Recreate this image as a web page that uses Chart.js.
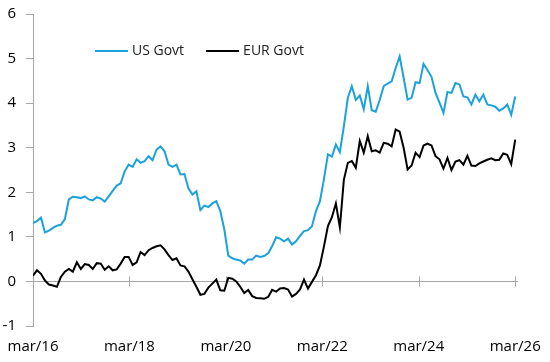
<!DOCTYPE html>
<html>
<head>
<meta charset="utf-8">
<script src="https://cdn.jsdelivr.net/npm/chart.js@4"></script>
<style>
html, body { margin: 0; padding: 0; background: #fff; }
#wrap { width: 550px; height: 362px; }
</style>
</head>
<body>
<div id="wrap"><canvas id="myChart"></canvas></div>
<script>
// monthly yields, mar/16 .. apr/26
const usGovt = [
  1.31, 1.35, 1.43, 1.10, 1.14, 1.20, 1.25, 1.27, 1.40, 1.84,
  1.90, 1.89, 1.87, 1.91, 1.84, 1.82, 1.89, 1.86, 1.79, 1.91,
  2.03, 2.15, 2.20, 2.47, 2.62, 2.57, 2.74, 2.66, 2.70, 2.81,
  2.72, 2.96, 3.03, 2.92, 2.62, 2.57, 2.62, 2.40, 2.41, 2.09,
  1.95, 2.02, 1.60, 1.70, 1.67, 1.75, 1.80, 1.58, 1.17, 0.58,
  0.52, 0.49, 0.47, 0.40, 0.49, 0.49, 0.58, 0.55, 0.57, 0.63,
  0.79, 0.99, 0.96, 0.90, 0.96, 0.83, 0.90, 1.02, 1.13, 1.15,
  1.24, 1.58, 1.80, 2.29, 2.85, 2.80, 3.07, 2.90, 3.48, 4.12,
  4.38, 4.07, 4.17, 3.86, 4.38, 3.84, 3.81, 4.07, 4.38, 4.44,
  4.49, 4.79, 5.05, 4.57, 4.08, 4.12, 4.47, 4.45, 4.88, 4.74,
  4.59, 4.23, 4.01, 3.78, 4.25, 4.23, 4.45, 4.42, 4.15, 4.13,
  3.97, 4.19, 4.04, 4.19, 3.97, 3.95, 3.92, 3.83, 3.88, 3.97,
  3.74, 4.15
];
const eurGovt = [
  0.13, 0.25, 0.17, 0.02, -0.07, -0.09, -0.12, 0.10, 0.22, 0.28,
  0.22, 0.43, 0.28, 0.39, 0.37, 0.28, 0.41, 0.40, 0.26, 0.34,
  0.25, 0.27, 0.40, 0.55, 0.55, 0.37, 0.43, 0.66, 0.59, 0.70,
  0.75, 0.79, 0.81, 0.72, 0.59, 0.48, 0.52, 0.36, 0.34, 0.22,
  0.05, -0.12, -0.30, -0.28, -0.14, -0.05, 0.04, -0.20, -0.21, 0.08,
  0.06, 0.00, -0.12, -0.26, -0.19, -0.33, -0.37, -0.38, -0.39, -0.35,
  -0.19, -0.23, -0.16, -0.15, -0.18, -0.34, -0.28, -0.18, 0.04, -0.16,
  -0.01, 0.14, 0.36, 0.78, 1.24, 1.44, 1.75, 1.21, 2.28, 2.66,
  2.70, 2.55, 3.15, 2.89, 3.26, 2.92, 2.94, 2.89, 3.11, 3.09,
  3.03, 3.41, 3.36, 3.00, 2.51, 2.60, 2.89, 2.79, 3.05, 3.09,
  3.05, 2.81, 2.74, 2.53, 2.77, 2.50, 2.69, 2.72, 2.62, 2.82,
  2.60, 2.59, 2.65, 2.69, 2.73, 2.76, 2.72, 2.73, 2.87, 2.84,
  2.63, 3.18
];
const tickLabels = ['mar/16', 'mar/18', 'mar/20', 'mar/22', 'mar/24', 'mar/26'];
const tickValues = [0, 24.2, 48.4, 72.6, 96.8, 121];

Chart.defaults.font.family = "'Open Sans', sans-serif";
Chart.defaults.font.size = 15;
Chart.defaults.color = '#000';

const axisGrey = '#a6a6a6';

// tick marks on the zero line, and the legend drawn inside the plot
const extras = {
  id: 'extras',
  beforeDatasetsDraw(chart) {
    const {ctx, scales: {x, y}} = chart;
    const y0 = y.getPixelForValue(0);
    ctx.save();
    ctx.strokeStyle = axisGrey;
    ctx.lineWidth = 1;
    ctx.beginPath();
    tickValues.forEach(v => {
      const px = Math.round(x.getPixelForValue(v)) + 0.5;
      ctx.moveTo(px, y0 - 5);
      ctx.lineTo(px, y0 + 5);
    });
    ctx.stroke();
    ctx.restore();
  },
  afterDraw(chart) {
    const ctx = chart.ctx;
    let lx = 95;
    const ly = 51;
    ctx.save();
    ctx.font = "14px 'Open Sans'";
    ctx.textBaseline = 'middle';
    chart.data.datasets.forEach(ds => {
      ctx.strokeStyle = ds.borderColor;
      ctx.lineWidth = 2;
      ctx.beginPath();
      ctx.moveTo(lx, ly);
      ctx.lineTo(lx + 33, ly);
      ctx.stroke();
      ctx.fillStyle = '#222';
      ctx.fillText(ds.label, lx + 37, ly);
      lx += 37 + ctx.measureText(ds.label).width + 22;
    });
    ctx.restore();
  }
};

const data = {
  datasets: [{
    label: 'US Govt',
    borderColor: '#1ba1dc',
    backgroundColor: '#1ba1dc',
    borderWidth: 2,
    pointRadius: 0,
    data: usGovt.map((v, i) => ({x: i, y: v})),
  }, {
    label: 'EUR Govt',
    borderColor: '#000000',
    backgroundColor: '#000000',
    borderWidth: 2,
    pointRadius: 0,
    data: eurGovt.map((v, i) => ({x: i, y: v})),
  }]
};

const config = {
  type: 'line',
  data: data,
  plugins: [extras],
  options: {
    responsive: true,
    maintainAspectRatio: false,
    animation: false,
    layout: { padding: { left: 0, right: 32, top: 14, bottom: 4 } },
    plugins: {
      legend: { display: false },
      tooltip: { enabled: false }
    },
    scales: {
      x: {
        type: 'linear',
        min: 0,
        max: 121.7,
        afterBuildTicks: scale => { scale.ticks = tickValues.map(v => ({value: v})); },
        afterFit: scale => {
          scale.height = 32;
          scale.paddingLeft = 0;
          scale.paddingRight = 0;
        },
        grid: { display: false, drawTicks: false },
        border: { display: false },
        ticks: {
          padding: 12,
          maxRotation: 0,
          autoSkip: false,
          callback: (v, i) => tickLabels[i]
        }
      },
      y: {
        min: -1,
        max: 6,
        afterFit: scale => {
          scale.width = 33;
          scale.paddingTop = 0;
          scale.paddingBottom = 0;
        },
        ticks: { stepSize: 1, padding: 10 },
        grid: {
          color: c => c.tick && c.tick.value === 0 ? axisGrey : 'rgba(0,0,0,0)',
          tickColor: axisGrey,
          tickLength: 7
        },
        border: { color: axisGrey, width: 1 }
      }
    }
  }
};

const myChart = new Chart(document.getElementById('myChart'), config);
</script>
</body>
</html>
